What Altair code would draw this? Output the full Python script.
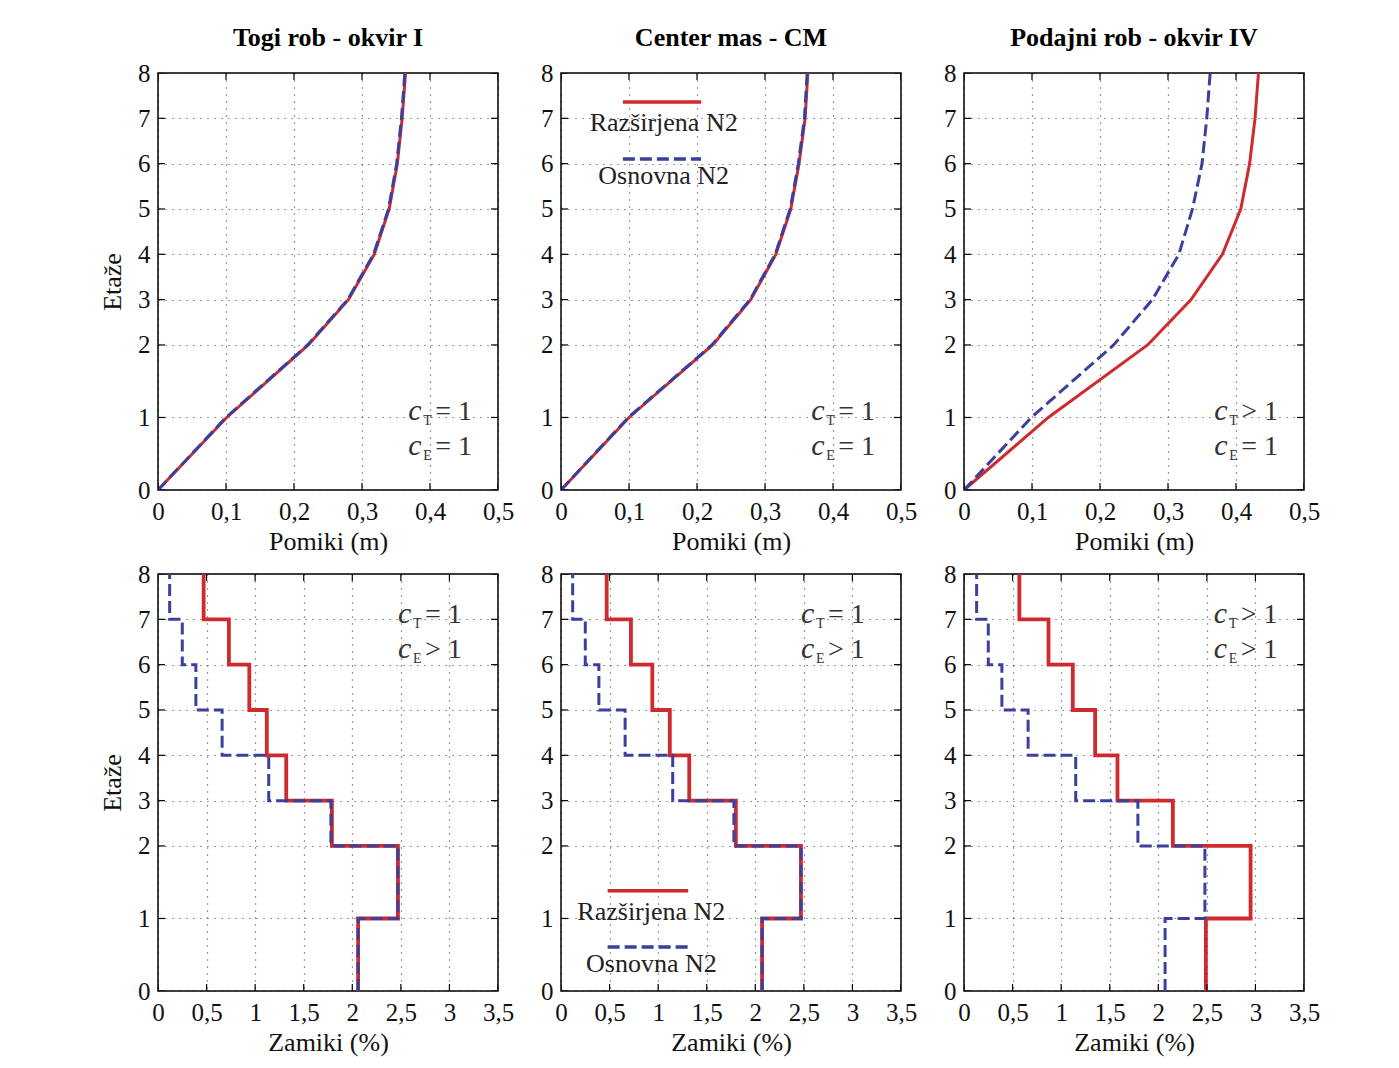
import altair as alt
import pandas as pd

RED = "#cf2a2e"
BLUE = "#3b3f9e"
FONT = "Liberation Serif"

# ---------------- data ----------------
levels = [0, 1, 2, 3, 4, 5, 6, 7, 8]
level_heights = [0.0, 1.6, 3.2, 4.2, 5.2, 6.2, 7.2, 8.2, 9.2]   # storey elevations (relative)
series_names = ["Razširjena N2", "Osnovna N2"]
panel_titles = ["Togi rob - okvir I", "Center mas - CM", "Podajni rob - okvir IV"]

pomiki_ticks = [0, 0.1, 0.2, 0.3, 0.4, 0.5]
zamiki_ticks = [0, 0.5, 1, 1.5, 2, 2.5, 3, 3.5]

# Pomiki (m) at levels 0..8
pomiki_togi_raz = [0, 0.101, 0.221, 0.280, 0.318, 0.340, 0.352, 0.359, 0.364]
pomiki_togi_osn = [0, 0.100, 0.220, 0.279, 0.317, 0.339, 0.351, 0.358, 0.363]
pomiki_cm_raz = [0, 0.100, 0.223, 0.279, 0.316, 0.338, 0.350, 0.359, 0.363]
pomiki_cm_osn = [0, 0.099, 0.222, 0.278, 0.315, 0.337, 0.349, 0.358, 0.362]
pomiki_pod_raz = [0, 0.124, 0.270, 0.334, 0.380, 0.407, 0.420, 0.428, 0.433]
pomiki_pod_osn = [0, 0.099, 0.220, 0.277, 0.316, 0.336, 0.350, 0.357, 0.362]

# Zamiki (%) for storeys 1..8
zamiki_togi_raz = [2.06, 2.47, 1.79, 1.32, 1.12, 0.94, 0.73, 0.47]
zamiki_togi_osn = [2.06, 2.47, 1.78, 1.14, 0.66, 0.39, 0.25, 0.12]
zamiki_cm_raz = [2.07, 2.47, 1.80, 1.32, 1.12, 0.94, 0.72, 0.47]
zamiki_cm_osn = [2.07, 2.47, 1.78, 1.15, 0.66, 0.39, 0.25, 0.12]
zamiki_pod_raz = [2.49, 2.95, 2.15, 1.58, 1.35, 1.12, 0.87, 0.57]
zamiki_pod_osn = [2.07, 2.48, 1.79, 1.15, 0.66, 0.39, 0.25, 0.13]

top_rel = [("= 1", "= 1"), ("= 1", "= 1"), ("> 1", "= 1")]
bottom_rel = [("= 1", "> 1"), ("= 1", "> 1"), ("> 1", "> 1")]

# annotation / legend placement (data units)
top_annot_x = [0.368, 0.368, 0.368]
top_annot_y = [1.55, 0.77]
bottom_annot_x = [2.47, 2.47, 2.57]
bottom_annot_y = [8.12, 7.35]

top_legend = {"x": 0.091, "x2": 0.206, "xt": 0.151, "line_y": [8.56, 7.30], "text_y": [8.10, 6.93]}
bottom_legend = {"x": 0.48, "x2": 1.31, "xt": 0.93, "line_y": [2.21, 0.97], "text_y": [1.74, 0.60]}

H_MAX = level_heights[-1]


def profile_df(vals):
    return pd.DataFrame({"x": vals, "h": level_heights, "o": list(range(len(vals)))})


def step_df(drifts):
    rows = []
    for s, d in enumerate(drifts, start=1):
        rows.append({"x": d, "h": level_heights[s - 1], "o": 2 * s})
        rows.append({"x": d, "h": level_heights[s], "o": 2 * s + 1})
    return pd.DataFrame(rows)


y_label_expr = f"{levels}[indexof({level_heights}, datum.value)]"
x_label_expr = "replace(format(datum.value, '~g'), '.', ',')"

GRID = dict(grid=True, gridDash=[1, 6], gridColor="#222", gridOpacity=0.9, gridWidth=1.2,
            ticks=False, domain=False, labelFlush=False, labelOverlap=False)


def panel(raz_df, osn_df, xmax, xticks, xtitle, ytitle, title, ann_x, ann_y, rels,
          red_w, legend=None):
    xs = alt.Scale(domain=[0, xmax], nice=False, zero=False)
    ys = alt.Scale(domain=[0, H_MAX], nice=False, zero=False)
    xax = alt.Axis(values=xticks, title=xtitle, labelExpr=x_label_expr, labelPadding=9,
                   titlePadding=4, **GRID)
    yax = alt.Axis(values=level_heights, title=ytitle, labelExpr=y_label_expr, labelPadding=8,
                   titlePadding=12, **GRID)

    red = alt.Chart(raz_df).mark_line(color=RED, strokeWidth=red_w).encode(
        x=alt.X("x:Q", scale=xs, axis=xax), y=alt.Y("h:Q", scale=ys, axis=yax), order="o:Q")
    blue = alt.Chart(osn_df).mark_line(color=BLUE, strokeWidth=3, strokeDash=[12, 5]).encode(
        x=alt.X("x:Q", scale=xs), y=alt.Y("h:Q", scale=ys), order="o:Q")

    # inward tick marks on all four sides (clipped to plot)
    xt = pd.DataFrame([{"x": v, "h": hh} for v in xticks for hh in (0, H_MAX)])
    yt = pd.DataFrame([{"x": xx, "h": v} for v in level_heights for xx in (0, xmax)])
    xtick = alt.Chart(xt).mark_tick(orient="vertical", size=14, thickness=1.2, color="black",
                                    clip=True, opacity=1).encode(
        x=alt.X("x:Q", scale=xs), y=alt.Y("h:Q", scale=ys))
    ytick = alt.Chart(yt).mark_tick(orient="horizontal", size=14, thickness=1.2, color="black",
                                    clip=True, opacity=1).encode(
        x=alt.X("x:Q", scale=xs), y=alt.Y("h:Q", scale=ys))

    ann = pd.DataFrame({"x": [ann_x, ann_x], "h": ann_y, "sub": ["T", "E"], "rel": list(rels)})
    base_ann = alt.Chart(ann).encode(x=alt.X("x:Q", scale=xs), y=alt.Y("h:Q", scale=ys))
    c_txt = base_ann.mark_text(text="c", font=FONT, fontStyle="italic", fontSize=30,
                               align="left", baseline="alphabetic", color="#333")
    s_txt = base_ann.mark_text(font=FONT, fontSize=14, align="left", baseline="alphabetic",
                               dx=15, dy=5, color="#333").encode(text="sub:N")
    r_txt = base_ann.mark_text(font=FONT, fontSize=28, align="left", baseline="alphabetic",
                               dx=27, color="#333").encode(text="rel:N")

    layers = [red, blue, xtick, ytick, c_txt, s_txt, r_txt]

    if legend is not None:
        lg = pd.DataFrame({"x": [legend["x"]] * 2, "x2": [legend["x2"]] * 2,
                           "xt": [legend["xt"]] * 2, "ly": legend["line_y"],
                           "ty": legend["text_y"], "name": series_names})
        lbase = alt.Chart(lg)
        red_l = lbase.transform_filter(alt.datum.name == series_names[0]).mark_rule(
            color=RED, strokeWidth=3.5).encode(x=alt.X("x:Q", scale=xs), x2="x2:Q",
                                               y=alt.Y("ly:Q", scale=ys))
        blue_l = lbase.transform_filter(alt.datum.name == series_names[1]).mark_rule(
            color=BLUE, strokeWidth=3.5, strokeDash=[12, 5]).encode(
            x=alt.X("x:Q", scale=xs), x2="x2:Q", y=alt.Y("ly:Q", scale=ys))
        txt = lbase.mark_text(font=FONT, fontSize=26, align="center", baseline="middle",
                              color="#222").encode(
            x=alt.X("xt:Q", scale=xs), y=alt.Y("ty:Q", scale=ys), text="name:N")
        layers += [red_l, blue_l, txt]

    props = dict(width=340, height=417)
    if title:
        props["title"] = alt.TitleParams(title, font=FONT, fontSize=26, fontWeight="bold",
                                         color="black", offset=10)
    return alt.layer(*layers).properties(**props)


top_data = [(pomiki_togi_raz, pomiki_togi_osn), (pomiki_cm_raz, pomiki_cm_osn),
            (pomiki_pod_raz, pomiki_pod_osn)]
bottom_data = [(zamiki_togi_raz, zamiki_togi_osn), (zamiki_cm_raz, zamiki_cm_osn),
               (zamiki_pod_raz, zamiki_pod_osn)]

panels = []
for i, (r, o) in enumerate(top_data):
    panels.append(panel(profile_df(r), profile_df(o), 0.5, pomiki_ticks, "Pomiki (m)",
                        "Etaže" if i == 0 else None, panel_titles[i], top_annot_x[i],
                        top_annot_y, top_rel[i], 3, top_legend if i == 1 else None))

for i, (r, o) in enumerate(bottom_data):
    panels.append(panel(step_df(r), step_df(o), 3.5, zamiki_ticks, "Zamiki (%)",
                        "Etaže" if i == 0 else None, None, bottom_annot_x[i],
                        bottom_annot_y, bottom_rel[i], 3.8, bottom_legend if i == 1 else None))

chart = alt.concat(*panels, columns=3, spacing={"row": 84, "column": 63}, bounds="flush").properties(
    padding={"left": 90, "top": 16, "right": 10, "bottom": 10}
).configure_view(stroke="black", strokeWidth=1.5).configure_axis(
    labelFont=FONT, titleFont=FONT, labelFontSize=25, titleFontSize=26,
    labelColor="#111", titleColor="#111", titleFontWeight="normal"
)

chart.save("out.html", embed_options={"renderer": "svg", "actions": False})
